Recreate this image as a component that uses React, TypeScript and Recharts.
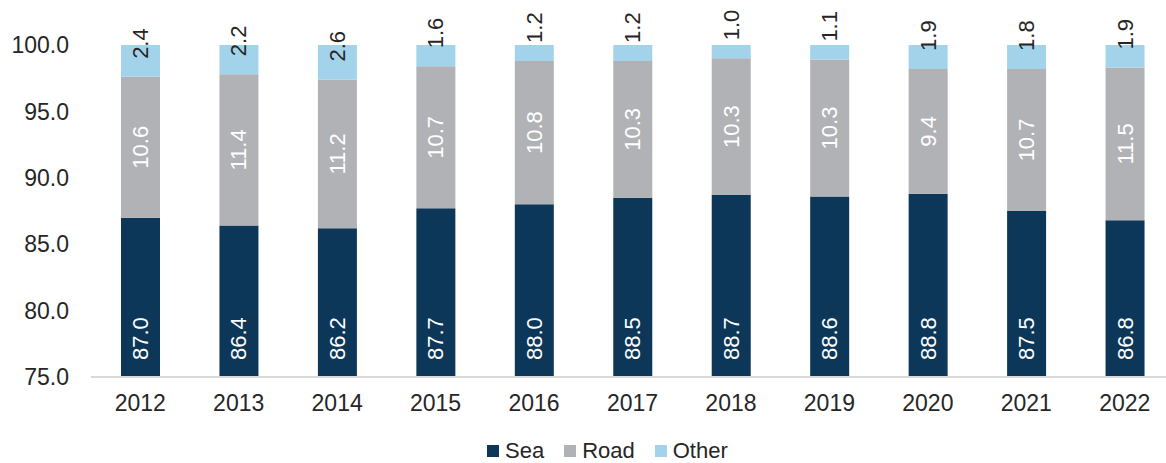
import { BarChart, Bar, XAxis, YAxis, Legend, LabelList } from "recharts";

const years = ["2012", "2013", "2014", "2015", "2016", "2017", "2018", "2019", "2020", "2021", "2022"];
const sea = [87.0, 86.4, 86.2, 87.7, 88.0, 88.5, 88.7, 88.6, 88.8, 87.5, 86.8];
const road = [10.6, 11.4, 11.2, 10.7, 10.8, 10.3, 10.3, 10.3, 9.4, 10.7, 11.5];
const other = [2.4, 2.2, 2.6, 1.6, 1.2, 1.2, 1.0, 1.1, 1.9, 1.8, 1.9];
const yTicks = [75, 80, 85, 90, 95, 100];

const COLORS = { sea: "#0c3758", road: "#b1b2b6", other: "#a3d3ea" };
const FONT = "'Liberation Sans', Arial, sans-serif";
const TEXT = "#262626";

const data = years.map((year, i) => ({ year, sea: sea[i], road: road[i], other: other[i] }));

const legendItems = [
  { key: "sea", label: "Sea", color: COLORS.sea },
  { key: "road", label: "Road", color: COLORS.road },
  { key: "other", label: "Other", color: COLORS.other },
];

const rotated = (x: number, y: number, text: string, anchor: string, fill: string) => (
  <text
    x={x}
    y={y}
    transform={`rotate(-90 ${x} ${y})`}
    textAnchor={anchor}
    dominantBaseline="central"
    fill={fill}
    fontSize={22}
    fontFamily={FONT}
  >
    {text}
  </text>
);

// label props for the sea bars already come clipped to the visible part
const SeaLabel = (p: any) => {
  const { x, y, width, height, value } = p;
  return rotated(x + width / 2, y + height - 17, Number(value).toFixed(1), "start", "#ffffff");
};

const RoadLabel = (p: any) => {
  const { x, y, width, height, value } = p;
  return rotated(x + width / 2, y + height / 2, Number(value).toFixed(1), "middle", "#ffffff");
};

const OtherLabel = (p: any) => {
  const { x, y, width, height, value } = p;
  return rotated(x + width / 2, y + height - 18, Number(value).toFixed(1), "start", TEXT);
};

const LegendContent = () => (
  <div style={{ display: "flex", alignItems: "center", fontFamily: FONT, fontSize: 22, lineHeight: "24px", color: TEXT }}>
    {legendItems.map((it) => (
      <div key={it.key} style={{ display: "flex", alignItems: "center", marginRight: 20 }}>
        <span style={{ width: 12, height: 12, background: it.color, display: "inline-block", marginRight: 6 }} />
        <span>{it.label}</span>
      </div>
    ))}
  </div>
);

export default function App() {
  return (
    <div style={{ position: "absolute", left: 0, top: 0, width: 1166, height: 463, overflow: "hidden", background: "#fff" }}>
      <BarChart width={1174} height={463} data={data} margin={{ top: 45, right: 0, left: 0, bottom: 6 }} barSize={39}>
        <XAxis
          dataKey="year"
          axisLine={{ stroke: "#d9d9d9", strokeWidth: 2 }}
          tickLine={false}
          tickSize={0}
          tickMargin={18}
          height={56}
          tick={{ fontSize: 23, fill: TEXT, fontFamily: FONT }}
        />
        <YAxis
          domain={[75, 100]}
          ticks={yTicks}
          allowDataOverflow
          axisLine={false}
          tickLine={false}
          tickSize={0}
          tickMargin={22}
          width={91}
          tickFormatter={(v: number) => v.toFixed(1)}
          tick={{ fontSize: 23, fill: TEXT, fontFamily: FONT }}
        />
        <Legend
          verticalAlign="bottom"
          height={24}
          content={<LegendContent />}
          wrapperStyle={{ left: 487, top: 439, width: 320, height: 24 }}
        />
        <Bar dataKey="sea" name="Sea" stackId="a" fill={COLORS.sea} isAnimationActive={false}>
          <LabelList dataKey="sea" content={SeaLabel} />
        </Bar>
        <Bar dataKey="road" name="Road" stackId="a" fill={COLORS.road} isAnimationActive={false}>
          <LabelList dataKey="road" content={RoadLabel} />
        </Bar>
        <Bar dataKey="other" name="Other" stackId="a" fill={COLORS.other} isAnimationActive={false}>
          <LabelList dataKey="other" content={OtherLabel} />
        </Bar>
      </BarChart>
    </div>
  );
}
